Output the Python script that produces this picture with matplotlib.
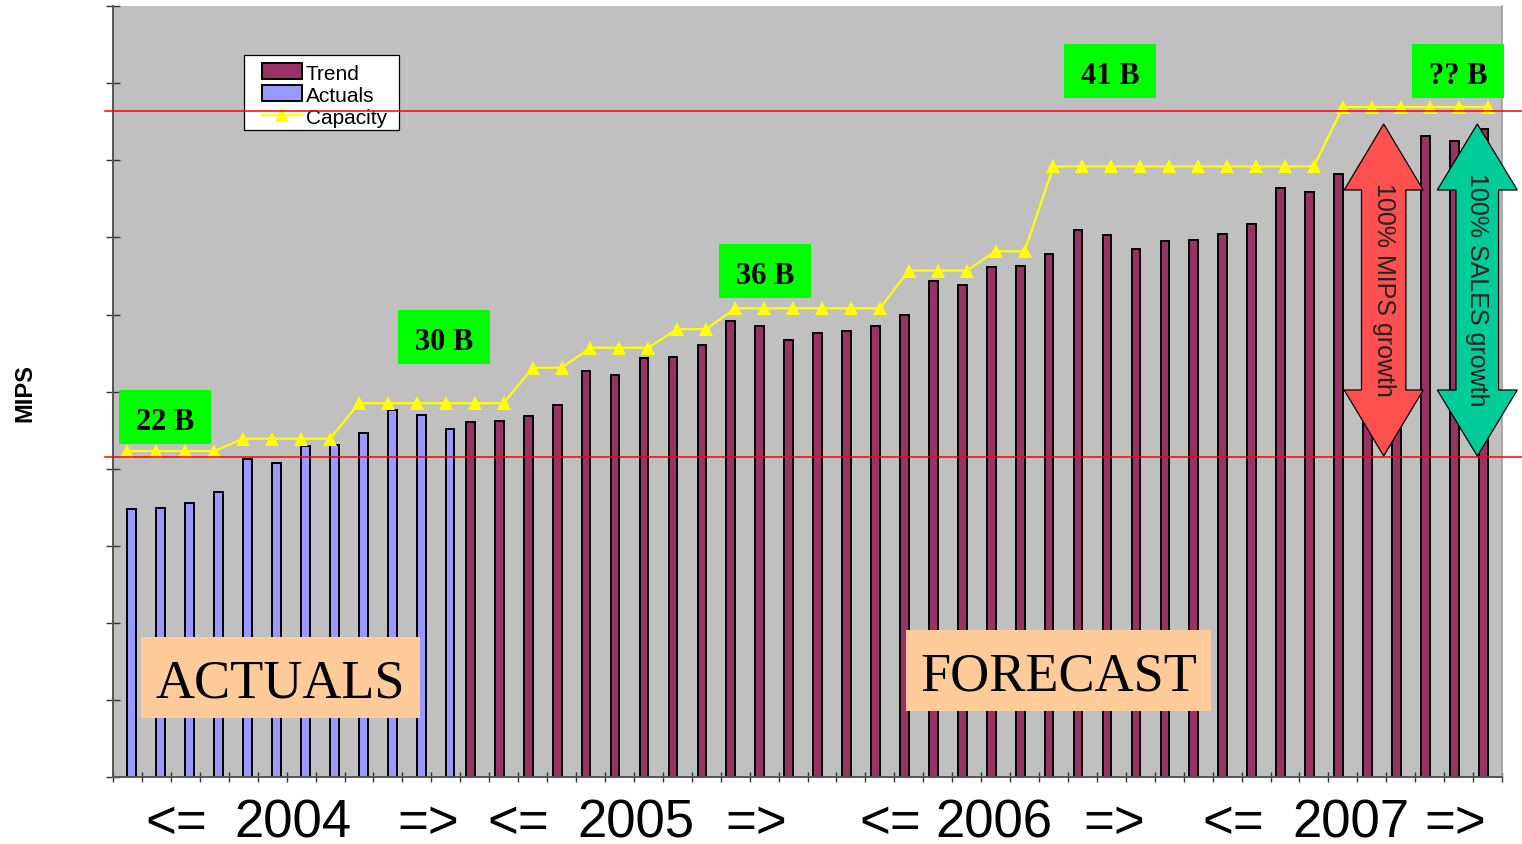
import numpy as np
import matplotlib
matplotlib.use("Agg")
import matplotlib.pyplot as plt
from matplotlib.patches import Rectangle, Polygon
from matplotlib.lines import Line2D

# monthly MIPS, Jan 2004 .. Dec 2007 (48 months)
actuals = [3.48, 3.49, 3.56, 3.70, 4.13, 4.07, 4.30, 4.31, 4.47, 4.76, 4.70, 4.51]
trend = [4.61, 4.62, 4.69, 4.83, 5.27, 5.21, 5.44, 5.45, 5.61, 5.91, 5.85, 5.67,
         5.76, 5.78, 5.85, 6.00, 6.44, 6.38, 6.61, 6.63, 6.79, 7.10, 7.03, 6.85,
         6.95, 6.96, 7.04, 7.18, 7.64, 7.59, 7.82, 7.95, 8.02, 8.31, 8.25, 8.40]
capacity = ([4.23] * 4 + [4.39] * 4 + [4.85] * 6 + [5.31] * 2 + [5.57] * 3 +
            [5.81] * 2 + [6.08] * 6 + [6.57] * 3 + [6.82] * 2 + [7.92] * 10 +
            [8.69] * 6)
growth_low, growth_high = 4.15, 8.64

capacity_labels = ["22 B", "30 B", "36 B", "41 B", "?? B"]
years = ["2004", "2005", "2006", "2007"]

W, H = 1522, 845
TREND_C = "#993366"
ACT_C = "#9999FF"

fig = plt.figure(figsize=(W / 100, H / 100), dpi=100)
fig.patch.set_facecolor("white")
ax = fig.add_axes([113 / W, 1 - 778.3 / H, 1389 / W, 771.3 / H])
ax.set_facecolor("#C0C0C0")


def fpos(px, py):
    """pixel position (from top-left) -> figure fraction"""
    return px / W, 1 - py / H


n_act = len(actuals)
x_all = np.arange(n_act + len(trend))
x_act = x_all[:n_act]
x_trend = x_all[n_act:]

bw = 0.30
ax.bar(x_trend - bw / 2, trend, width=bw, color=TREND_C, edgecolor="black",
       linewidth=1.4, zorder=2)
ax.bar(x_act + bw / 2, actuals, width=bw, color=ACT_C, edgecolor="black",
       linewidth=1.4, zorder=2)
ax.plot(x_all, capacity, color="#FFFF00", lw=1.6, marker="^", markersize=10,
        markeredgewidth=0, zorder=3)

# 100% growth reference lines (run slightly past the plot on both sides)
for yv in (growth_low, growth_high):
    ax.plot([-0.006, 1.02], [yv, yv], color="#FF0000", lw=1.1, zorder=4.5,
            transform=ax.get_yaxis_transform(), clip_on=False)

ax.set_xlim(-0.5, len(x_all) - 0.5)
ax.set_ylim(0, 10)
ax.set_xticks(np.arange(-0.5, len(x_all), 1))
ax.set_yticks(np.arange(0, 11, 1))
ax.tick_params(axis="x", direction="inout", length=7.5, width=1, color="#333333",
               labelbottom=False)
ax.tick_params(axis="y", direction="inout", length=9.5, width=1, color="#333333",
               labelleft=False)
ax.spines["top"].set_visible(False)
ax.spines["left"].set_color("#555555")
ax.spines["bottom"].set_color("#555555")
ax.spines["left"].set_linewidth(1.4)
ax.spines["bottom"].set_linewidth(1.4)
ax.spines["right"].set_color("#A0A0A0")
ax.spines["right"].set_linewidth(1.2)

ff = fig.transFigure


def box(px0, py0, px1, py1, color, z):
    x0, y1 = fpos(px0, py0)
    x1, y0 = fpos(px1, py1)
    ax.add_patch(Rectangle((x0, y0), x1 - x0, y1 - y0, transform=ff,
                           facecolor=color, edgecolor="none", zorder=z,
                           clip_on=False))


# legend
lx0, ly0 = fpos(244, 56)
lx1, ly1 = fpos(399, 131)
ax.add_patch(Rectangle((lx0, ly1), lx1 - lx0, ly0 - ly1, transform=ff,
                       facecolor="white", edgecolor="black", lw=0.9,
                       zorder=4, clip_on=False))
for (top, col) in ((64, TREND_C), (86, ACT_C)):
    x0, y1 = fpos(262, top)
    x1, y0 = fpos(302, top + 16)
    ax.add_patch(Rectangle((x0, y0), x1 - x0, y1 - y0, transform=ff,
                           facecolor=col, edgecolor="black", lw=1.4,
                           zorder=4.1, clip_on=False))
lxa, lya = fpos(262, 115.5)
lxb, _ = fpos(302, 115.5)
ax.add_line(Line2D([lxa, lxb], [lya, lya], transform=ff, color="#FFFF00",
                   lw=1.6, zorder=4.1, clip_on=False))
ax.add_line(Line2D([(lxa + lxb) / 2], [lya], transform=ff, color="#FFFF00",
                   marker="^", markersize=10, markeredgewidth=0, zorder=4.1,
                   clip_on=False))
for name, base in (("Trend", 80), ("Actuals", 101.5), ("Capacity", 124)):
    tx, ty = fpos(306, base)
    ax.text(tx, ty, name, transform=ff, fontsize=15, family="Liberation Sans",
            va="baseline", ha="left", zorder=4.2)

# capacity call-outs
label_boxes = [(119, 391), (398, 311), (719, 245), (1064, 45), (1412, 45)]
for txt, (bx, by) in zip(capacity_labels, label_boxes):
    box(bx, by, bx + 92, by + 54, "#00FF00", 4)
    tx, ty = fpos(bx + 46, by + 39)
    ax.text(tx, ty, txt, transform=ff, fontsize=22, fontweight="bold",
            family="Liberation Serif", ha="center", va="baseline", zorder=4.2)

# ACTUALS / FORECAST panels
for txt, (bx0, by0, bx1, by1) in (("ACTUALS", (141, 638, 420, 719)),
                                  ("FORECAST", (906, 631, 1211, 712))):
    box(bx0, by0, bx1, by1, "#FFCC99", 4)
    tx, ty = fpos((bx0 + bx1) / 2, by0 + 60)
    ax.text(tx, ty, txt, transform=ff, fontsize=39, family="Liberation Serif",
            ha="center", va="baseline", zorder=4.2)


# double-headed growth arrows
def double_arrow(cx, half_head, half_shaft, top, bottom, head_len, color, text):
    pts = [(cx, top), (cx + half_head, top + head_len),
           (cx + half_shaft, top + head_len), (cx + half_shaft, bottom - head_len),
           (cx + half_head, bottom - head_len), (cx, bottom),
           (cx - half_head, bottom - head_len), (cx - half_shaft, bottom - head_len),
           (cx - half_shaft, top + head_len), (cx - half_head, top + head_len)]
    ax.add_patch(Polygon([fpos(*p) for p in pts], closed=True, transform=ff,
                         facecolor=color, edgecolor="black", lw=0.9, zorder=5,
                         clip_on=False))
    tx, ty = fpos(cx, (top + bottom) / 2 - 1)
    ax.text(tx, ty, text, transform=ff, rotation=-90, fontsize=18,
            family="Liberation Sans", color="#222222", ha="center", va="center",
            rotation_mode="anchor", zorder=5.1)


double_arrow(1383.7, 39.5, 22.2, 125, 457, 66, "#FF5050", "100% MIPS growth")
double_arrow(1477.3, 40.0, 21.3, 125, 457, 66, "#00CC99", "100% SALES growth")

# year ranges under the axis
year_pos = [(176, 293, 428), (518, 636, 756), (890, 994, 1114), (1233, 1351, 1455)]
for yr, (pl, pm, pr) in zip(years, year_pos):
    for s, px in (("<=", pl), (yr, pm), ("=>", pr)):
        tx, ty = fpos(px, 838)
        fig.text(tx, ty, s, fontsize=38, family="Liberation Sans",
                 ha="center", va="baseline")

mx, my = fpos(25, 393)
fig.text(mx, my, "MIPS", rotation=90, fontsize=17, fontweight="bold",
         family="Liberation Sans", ha="center", va="center")

fig.savefig("out.png", dpi=100)
